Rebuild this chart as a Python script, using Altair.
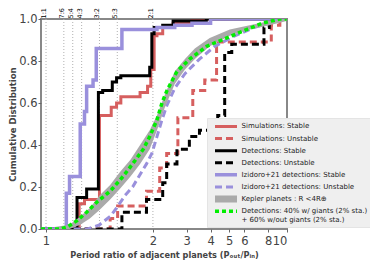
import math
import altair as alt
import pandas as pd

# ---- axis stretch: linear between 1 and 2, logarithmic above 2 ----
K = 1.792
def to_u(v):
    return v - 1 if v <= 2 else 1 + K * math.log10(v / 2)
U_EXPR = f"datum.x <= 2 ? datum.x - 1 : 1 + {K} * log(datum.x / 2) / LN10"

# ---- series names / styles ----
series_names = [
    "Simulations: Stable",
    "Simulations: Unstable",
    "Detections: Stable",
    "Detections: Unstable",
    "Izidoro+21 detections: Stable",
    "Izidoro+21 detections: Unstable",
    "Kepler planets : R <4R⊕",
    "Detections: 40% w/ giants (2% sta.)| + 60% w/out giants (2% sta.)",
]
series_colors = ["#d65f5f", "#d65f5f", "#000000", "#000000",
                 "#9a90dc", "#9a90dc", "#aaaaaa", "#00ee00"]
series_dash = [[1, 0], [7, 4], [1, 0], [7, 4], [1, 0], [7, 4], [1, 0], [4, 3]]
series_width = [3, 3, 3, 3, 3.5, 3, 7, 3.5]

# ---- step CDFs ----
sim_st_x = [0.95, 1.31, 1.36, 1.50, 1.61, 1.66, 1.70, 1.88, 1.95, 1.98, 2.03, 2.10, 2.25, 2.55, 3.2, 10]
sim_st_y = [0.0, 0.12, 0.14, 0.54, 0.58, 0.60, 0.63, 0.65, 0.68, 0.76, 0.92, 0.93, 0.96, 0.98, 1.0, 1.0]

sim_un_x = [0.95, 1.60, 1.67, 1.94, 2.17, 2.36, 2.70, 3.23, 3.73, 4.30, 8.3, 9.2, 10]
sim_un_y = [0.0, 0.05, 0.11, 0.18, 0.29, 0.36, 0.53, 0.66, 0.71, 0.89, 0.97, 1.0, 1.0]

det_st_x = [0.95, 1.29, 1.38, 1.49, 1.53, 1.62, 1.66, 1.70, 1.97, 1.99, 2.03, 2.25, 2.55, 3.8, 10]
det_st_y = [0.0, 0.15, 0.19, 0.65, 0.66, 0.70, 0.72, 0.73, 0.77, 0.93, 0.96, 0.97, 0.99, 1.0, 1.0]

det_un_x = [0.95, 1.71, 1.94, 2.25, 2.36, 2.67, 3.1, 3.5, 4.36, 4.74, 5.16, 7.6, 8.1, 10]
det_un_y = [0.0, 0.08, 0.14, 0.22, 0.31, 0.38, 0.44, 0.47, 0.54, 0.84, 0.88, 0.96, 1.0, 1.0]

iz_st_x = [0.95, 1.19, 1.22, 1.32, 1.36, 1.38, 1.44, 1.47, 1.71, 2.1, 2.6, 3.2, 4.0, 10]
iz_st_y = [0.0, 0.17, 0.25, 0.50, 0.56, 0.68, 0.71, 0.86, 0.95, 0.96, 0.97, 0.98, 1.0, 1.0]

# ---- smooth CDFs ----
iz_un_x = [0.95, 1.39, 1.50, 1.60, 1.66, 1.74, 1.81, 1.88, 1.94, 1.99, 2.10, 2.23, 2.37, 2.60, 2.94, 3.51, 4.21, 5.35, 6.79, 8.63, 10]
iz_un_y = [0.0, 0.0, 0.02, 0.06, 0.10, 0.16, 0.20, 0.26, 0.31, 0.36, 0.44, 0.52, 0.59, 0.67, 0.74, 0.81, 0.87, 0.92, 0.96, 0.99, 1.0]

green_x = [0.953, 1.13, 1.20, 1.29, 1.38, 1.48, 1.60, 1.72, 1.81, 1.91, 1.97, 2.10, 2.23, 2.37, 2.67, 3.12, 3.82, 4.86, 6.17, 7.47, 9.16, 10]
green_y = [0.0, 0.0, 0.01, 0.04, 0.08, 0.13, 0.18, 0.25, 0.31, 0.38, 0.44, 0.52, 0.60, 0.66, 0.75, 0.81, 0.87, 0.91, 0.95, 0.98, 1.0, 1.0]

kep_x = [1.08, 1.22, 1.32, 1.41, 1.50, 1.60, 1.69, 1.79, 1.88, 1.97, 2.10, 2.31, 2.60, 2.94, 3.31, 3.96, 5.04, 6.40, 8.12, 10]
kep_lo = [0.0, 0.0, 0.02, 0.05, 0.09, 0.14, 0.19, 0.25, 0.31, 0.38, 0.47, 0.58, 0.69, 0.76, 0.81, 0.87, 0.92, 0.95, 0.97, 0.99]
kep_hi = [0.01, 0.02, 0.06, 0.10, 0.16, 0.21, 0.27, 0.33, 0.40, 0.47, 0.54, 0.64, 0.75, 0.81, 0.86, 0.91, 0.95, 0.97, 0.99, 1.0]

# ---- resonances ----
res_labels = ["1:1", "7:6", "5:4", "4:3", "3:2", "5:3", "2:1"]
res_values = [1.0, 7 / 6, 5 / 4, 4 / 3, 3 / 2, 5 / 3, 2.0]

x_ticks = [1, 2, 3, 4, 5, 6, 8, 10]
y_ticks = [0.0, 0.2, 0.4, 0.6, 0.8, 1.0]

def long_df(pairs):
    rows = []
    for name, xs, ys in pairs:
        for i, (a, b) in enumerate(zip(xs, ys)):
            rows.append({"series": name, "x": a, "y": b, "i": i})
    return pd.DataFrame(rows)

steps_df = long_df([
    (series_names[0], sim_st_x, sim_st_y),
    (series_names[1], sim_un_x, sim_un_y),
    (series_names[2], det_st_x, det_st_y),
    (series_names[3], det_un_x, det_un_y),
    (series_names[4], iz_st_x, iz_st_y),
])
izun_df = long_df([(series_names[5], iz_un_x, iz_un_y)])
green_df = long_df([(series_names[7], green_x, green_y)])
kep_df = pd.DataFrame({"x": kep_x, "lo": kep_lo, "hi": kep_hi})
res_df = pd.DataFrame({"x": res_values, "label": res_labels})

FONT = "DejaVu Sans"
xscale = alt.Scale(domain=[to_u(0.953), to_u(10.0) + 0.002], nice=False, zero=False)
yscale = alt.Scale(domain=[0, 1], nice=False, zero=False)

xaxis = alt.Axis(
    values=[to_u(v) for v in x_ticks],
    labelExpr=f"round(datum.value <= 1.0001 ? datum.value + 1 : 2 * pow(10, (datum.value - 1) / {K}))",
    labelFontSize=11.5, labelColor="#444", labelFont=FONT, labelPadding=3,
    tickSize=3, tickColor="#666", domain=False, grid=False,
    title="Period ratio of adjacent planets (Pₒᵤₜ/Pᵢₙ)",
    titleFontSize=8.2, titleFont=FONT, titleFontWeight="bold", titleColor="#444", titlePadding=5,
)
yaxis = alt.Axis(
    values=y_ticks, format=".1f",
    labelFontSize=11.5, labelColor="#444", labelFont=FONT, labelPadding=1,
    tickSize=3, tickColor="#666", domain=False, grid=False,
    title="Cumulative Distribution",
    titleFontSize=8.5, titleFont=FONT, titleFontWeight="bold", titleColor="#444", titlePadding=1,
)

legend = alt.Legend(
    title=None, orient="none", legendX=166, legendY=99,
    fillColor="#efefef", strokeColor="#e4e4e4", padding=3.5,
    symbolType="M-11,0H11", symbolSize=4, symbolOffset=11,
    labelFontSize=7.0, labelFont=FONT, labelColor="#222", labelLimit=400,
    labelOffset=11, rowPadding=2.1, clipHeight=9.9,
    labelExpr="split(datum.label, '|')",
)
cscale = alt.Scale(domain=series_names, range=series_colors)
dscale = alt.Scale(domain=series_names, range=series_dash)
wscale = alt.Scale(type="ordinal", domain=series_names, range=series_width)

X = alt.X("u:Q", scale=xscale, axis=xaxis)

def line_enc():
    return dict(
        x=X,
        y=alt.Y("y:Q", scale=yscale, axis=yaxis),
        color=alt.Color("series:N", scale=cscale, legend=legend),
        strokeDash=alt.StrokeDash("series:N", scale=dscale, legend=legend),
        strokeWidth=alt.StrokeWidth("series:N", scale=wscale, legend=legend),
        order=alt.Order("i:Q"),
    )

rules = alt.Chart(res_df).transform_calculate(u=U_EXPR).mark_rule(
    color="#b0b0b0", strokeDash=[1, 2], strokeWidth=1
).encode(x=X)

res_text = alt.Chart(res_df).transform_calculate(u=U_EXPR).mark_text(
    angle=270, align="left", baseline="alphabetic", fontSize=6.5, font=FONT, color="#000"
).encode(x=X, y=alt.value(-0.5), text="label:N")

steps = alt.Chart(steps_df).transform_calculate(u=U_EXPR).mark_line(
    interpolate="step-after", clip=True
).encode(**line_enc())

izun = alt.Chart(izun_df).transform_calculate(u=U_EXPR).mark_line(clip=True).encode(**line_enc())

kep = alt.Chart(kep_df).transform_calculate(u=U_EXPR).mark_area(
    color="#aaaaaa", clip=True
).encode(x=X, y=alt.Y("lo:Q", scale=yscale, axis=yaxis), y2="hi:Q")

green = alt.Chart(green_df).transform_calculate(u=U_EXPR).mark_line(clip=True).encode(**line_enc())

chart = alt.layer(rules, steps, izun, kep, green, res_text).properties(
    width=246, height=210,
    padding={"left": 33, "top": 11, "right": 83, "bottom": 32},
    autosize=alt.AutoSizeParams(type="none"),
).configure(font=FONT).configure_view(stroke="#888888", strokeWidth=2)

chart.save("out.html", embed_options={"renderer": "svg", "actions": False})
